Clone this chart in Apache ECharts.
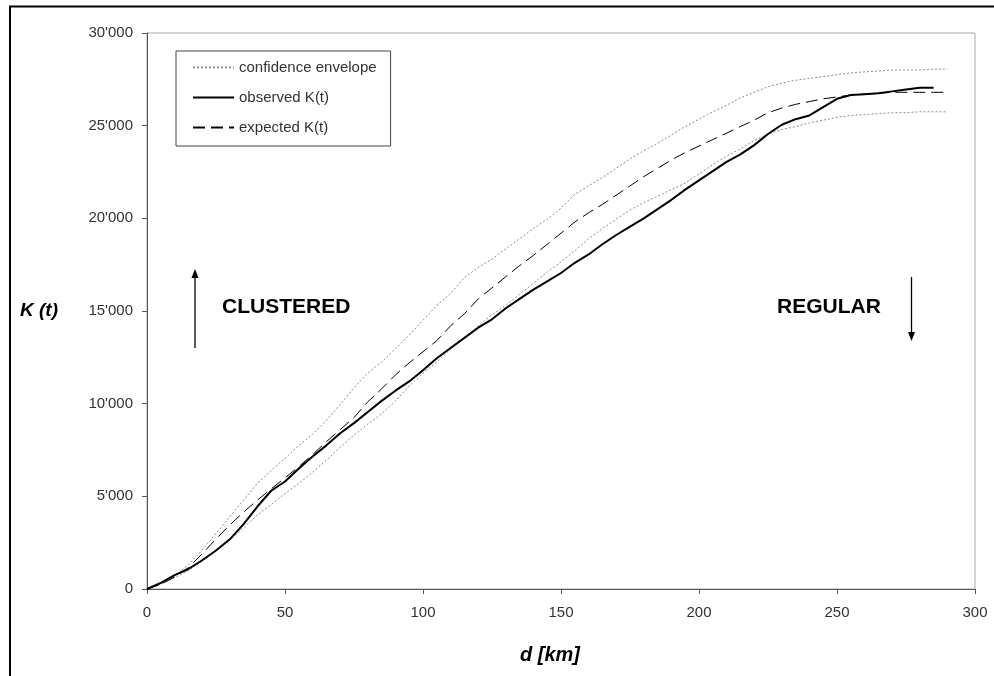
<!DOCTYPE html>
<html>
<head>
<meta charset="utf-8">
<script src="https://cdn.jsdelivr.net/npm/echarts@6/dist/echarts.min.js"></script>
<style>
  html, body { margin: 0; padding: 0; background: #fff; }
  #chart { width: 994px; height: 676px; }
</style>
</head>
<body>
<div id="chart"></div>
<script>
// distance d [km], every 5 km
var dist = [0, 5, 10, 15, 20, 25, 30, 35, 40, 45, 50, 55, 60, 65, 70, 75, 80, 85, 90, 95,
  100, 105, 110, 115, 120, 125, 130, 135, 140, 145, 150, 155, 160, 165, 170, 175, 180, 185, 190, 195,
  200, 205, 210, 215, 220, 225, 230, 235, 240, 245, 250, 255, 260, 265, 270, 275, 280, 285, 290];

var upperEnv = [0, 300, 700, 1300, 2100, 3000, 3900, 4800, 5700, 6400, 7050, 7750, 8350, 9100, 9950, 10850, 11650, 12250, 12950, 13700,
  14500, 15300, 15950, 16800, 17350, 17800, 18350, 18900, 19450, 19950, 20550, 21300, 21750, 22200, 22700, 23200, 23650, 24050, 24500, 24950,
  25350, 25750, 26100, 26500, 26800, 27100, 27300, 27450, 27550, 27650, 27750, 27850, 27900, 27950, 28000, 28000, 28000, 28050, 28050];

var lowerEnv = [0, 250, 600, 1000, 1500, 2050, 2650, 3300, 4000, 4550, 5150, 5700, 6300, 6950, 7650, 8300, 8900, 9450, 10150, 10950,
  11650, 12250, 12950, 13550, 14200, 14800, 15300, 15900, 16500, 17100, 17650, 18250, 18900, 19450, 19950, 20450, 20850, 21200, 21550, 21900,
  22400, 22900, 23350, 23750, 24200, 24550, 24800, 24950, 25150, 25300, 25450, 25550, 25600, 25650, 25700, 25700, 25750, 25750, 25750];

var observed = [0, 330, 750, 1080, 1550, 2080, 2680, 3500, 4450, 5300, 5800, 6500, 7150, 7750, 8400, 8950, 9550, 10150, 10700, 11200,
  11800, 12450, 13000, 13550, 14100, 14550, 15150, 15650, 16150, 16600, 17050, 17600, 18050, 18600, 19100, 19550, 20000, 20500, 21000, 21550,
  22050, 22550, 23050, 23450, 23950, 24550, 25050, 25350, 25550, 26000, 26450, 26650, 26700, 26750, 26850, 26950, 27050, 27050];

var expected = [0, 250, 650, 1150, 1900, 2700, 3450, 4150, 4800, 5400, 6000, 6600, 7250, 7950, 8600, 9250, 10100, 10800, 11550, 12200,
  12800, 13400, 14200, 14850, 15650, 16250, 16850, 17450, 18000, 18600, 19200, 19800, 20300, 20750, 21250, 21750, 22250, 22700, 23150, 23550,
  23900, 24250, 24600, 24950, 25300, 25700, 25950, 26150, 26300, 26450, 26550, 26650, 26700, 26750, 26800, 26800, 26800, 26800, 26800];

function pairs(vals) {
  return vals.map(function (v, i) { return [dist[i], v]; });
}

function fmt(v) {
  return String(v).replace(/\B(?=(\d{3})+(?!\d))/g, "'");
}

var font = 'Arial, "Liberation Sans", sans-serif';
var chart = echarts.init(document.getElementById('chart'));

chart.setOption({
  backgroundColor: '#fff',
  animation: false,
  textStyle: { fontFamily: font },
  grid: {
    left: 147, top: 33, right: 19, bottom: 87,
    show: true, borderColor: '#a8a8a8', borderWidth: 1, backgroundColor: 'transparent'
  },
  legend: {
    left: 176, top: 51,
    orient: 'vertical',
    padding: [9, 14, 11, 16],
    borderColor: '#444', borderWidth: 1,
    itemWidth: 41, itemHeight: 15, itemGap: 15,
    itemStyle: { opacity: 0 },
    data: ['confidence envelope', 'observed K(t)', 'expected K(t)'],
    textStyle: { fontFamily: font, fontSize: 15, color: '#333', lineHeight: 15 }
  },
  xAxis: {
    type: 'value', min: 0, max: 300, interval: 50,
    axisLine: { lineStyle: { color: '#555', width: 1 } },
    axisTick: { inside: false, length: 5, lineStyle: { color: '#555' } },
    axisLabel: { fontFamily: font, fontSize: 15, color: '#333', margin: 16 },
    splitLine: { show: false }
  },
  yAxis: {
    type: 'value', min: 0, max: 30000, interval: 5000,
    axisLine: { show: true, lineStyle: { color: '#555', width: 1 } },
    axisTick: { show: true, inside: false, length: 5, lineStyle: { color: '#555' } },
    axisLabel: { fontFamily: font, fontSize: 15, color: '#333', margin: 14, formatter: fmt },
    splitLine: { show: false }
  },
  series: [
    {
      name: 'confidence envelope', type: 'line', data: pairs(upperEnv),
      showSymbol: false, symbol: 'none', color: '#8c8c8c',
      lineStyle: { color: '#8c8c8c', width: 1, type: [2, 2] }
    },
    {
      name: 'confidence envelope', type: 'line', data: pairs(lowerEnv),
      showSymbol: false, symbol: 'none', color: '#8c8c8c',
      lineStyle: { color: '#8c8c8c', width: 1, type: [2, 2] }
    },
    {
      name: 'expected K(t)', type: 'line', data: pairs(expected),
      showSymbol: false, symbol: 'none', color: '#000',
      lineStyle: { color: '#000', width: 1, type: [12, 6] }
    },
    {
      name: 'observed K(t)', type: 'line', data: pairs(observed),
      showSymbol: false, symbol: 'none', color: '#000',
      lineStyle: { color: '#000', width: 2 }
    }
  ],
  graphic: [
    // outer frame
    { type: 'rect', silent: true, shape: { x: 10, y: 6.5, width: 1100, height: 800 },
      style: { fill: 'none', stroke: '#000', lineWidth: 2 } },
    // axis names
    { type: 'text', x: 39, y: 311, style: { text: 'K (t)', fontFamily: font, fontSize: 19, fontWeight: 'bold',
      fontStyle: 'italic', fill: '#000', align: 'center', verticalAlign: 'middle' } },
    { type: 'text', x: 550, y: 655, style: { text: 'd [km]', fontFamily: font, fontSize: 20, fontWeight: 'bold',
      fontStyle: 'italic', fill: '#000', align: 'center', verticalAlign: 'middle' } },
    // annotations
    { type: 'text', x: 222, y: 307, style: { text: 'CLUSTERED', fontFamily: font, fontSize: 21, fontWeight: 'bold',
      fill: '#000', align: 'left', verticalAlign: 'middle' } },
    { type: 'text', x: 777, y: 307, style: { text: 'REGULAR', fontFamily: font, fontSize: 21, fontWeight: 'bold',
      fill: '#000', align: 'left', verticalAlign: 'middle' } },
    { type: 'line', shape: { x1: 195, y1: 348, x2: 195, y2: 276 }, style: { stroke: '#000', lineWidth: 1.3 } },
    { type: 'polygon', shape: { points: [[195, 269], [191.5, 278], [198.5, 278]] }, style: { fill: '#000' } },
    { type: 'line', shape: { x1: 911.5, y1: 277, x2: 911.5, y2: 334 }, style: { stroke: '#000', lineWidth: 1.3 } },
    { type: 'polygon', shape: { points: [[911.5, 341], [908, 332], [915, 332]] }, style: { fill: '#000' } }
  ]
});
</script>
</body>
</html>
